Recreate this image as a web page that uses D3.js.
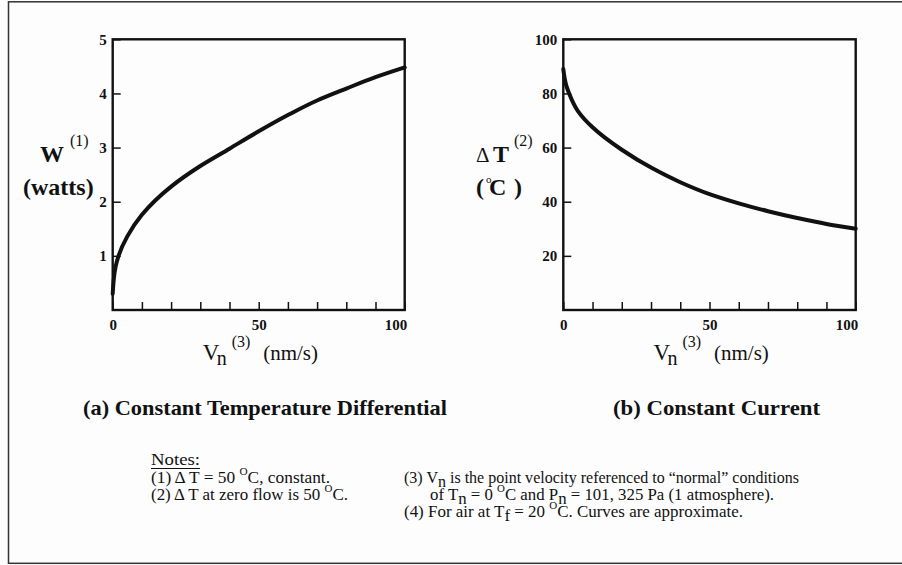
<!DOCTYPE html>
<html>
<head>
<meta charset="utf-8">
<script src="https://cdn.jsdelivr.net/npm/d3@7"></script>
<style>
  body { margin: 0; background: #fdfdfd; }
  svg { display: block; font-family: "Liberation Serif", "Times New Roman", serif; fill: #111; }
  .tick text { font-family: "Liberation Serif", "Times New Roman", serif; font-weight: bold; font-size: 15px; fill: #111; }
  .tick line { stroke: #111; stroke-width: 1.5; }
</style>
</head>
<body>
<svg id="HOTWIRE_CHART" width="902" height="565"></svg>
<script>
// values, V_n in nm/s
var velocity = [0, 1, 2, 5, 10, 20, 30, 40, 50, 60, 70, 80, 90, 100];
var powerWatts = [0.3, 0.8, 1.0, 1.36, 1.76, 2.28, 2.66, 2.98, 3.3, 3.6, 3.87, 4.09, 4.3, 4.48];
var deltaTemp = [89, 83, 80, 73.5, 67.5, 59.2, 52.6, 47.2, 42.8, 39.4, 36.5, 34.0, 31.8, 30];

var xTicks = [0, 10, 20, 30, 40, 50, 60, 70, 80, 90, 100];
var xTickLabels = [0, 50, 100];
var wTicks = [1, 2, 3, 4, 5];
var tTicks = [20, 40, 60, 80, 100];

var panelTitles = ["(a) Constant Temperature Differential", "(b) Constant Current"];

var svg = d3.select("#HOTWIRE_CHART");

// text made of several pieces (sub / superscripts)
function richText(parent, x, y, parts) {
  var t = parent.append("text").attr("x", x).attr("y", y);
  var prev = 0;
  parts.forEach(function (p) {
    var ts = t.append("tspan").text(p.t);
    var s = p.shift || 0;
    if (s !== prev) ts.attr("dy", s - prev);
    prev = s;
    if (p.x != null) ts.attr("x", p.x);
    if (p.size) ts.style("font-size", p.size + "px");
    if (p.bold) ts.style("font-weight", "bold");
  });
  return t;
}

var hotwire = {
  top: 39.3,
  bottom: 310,

  drawPanel: function (opt) {
    var x = d3.scaleLinear().domain([0, 100]).range([opt.left, opt.right]);
    var y = d3.scaleLinear().domain([0, opt.ymax]).range([hotwire.bottom, hotwire.top]);
    var g = svg.append("g");

    var xAxis = d3.axisBottom(x)
      .tickValues(xTicks)
      .tickSizeInner(-8)
      .tickSizeOuter(0)
      .tickPadding(9)
      .tickFormat(function (d) {
        return xTickLabels.indexOf(d) >= 0 ? d : "";
      });
    var xg = g.append("g")
      .attr("transform", "translate(0," + hotwire.bottom + ")")
      .call(xAxis);
    xg.select(".domain").remove();
    xg.selectAll(".tick text").filter(function (d) { return d === 100; })
      .attr("text-anchor", "end").attr("x", 2);

    var yAxis = d3.axisLeft(y)
      .tickValues(opt.ticks)
      .tickFormat(d3.format("d"))
      .tickSizeInner(-8)
      .tickSizeOuter(0)
      .tickPadding(6);
    var yg = g.append("g")
      .attr("transform", "translate(" + opt.left + ",0)")
      .call(yAxis);
    yg.select(".domain").remove();

    // plot frame
    g.append("rect")
      .attr("x", x(0))
      .attr("y", y(opt.ymax))
      .attr("width", x(100) - x(0))
      .attr("height", y(0) - y(opt.ymax))
      .attr("fill", "none")
      .attr("stroke", "#111")
      .attr("stroke-width", 2.4);

    // curves are steep at zero flow, so interpolate along y
    var line = d3.line()
      .x(function (d, i) { return x(velocity[i]); })
      .y(function (d) { return y(d); })
      .curve(d3.curveMonotoneY);

    g.append("path")
      .datum(opt.values)
      .attr("d", line)
      .attr("fill", "none")
      .attr("stroke", "#111")
      .attr("stroke-width", 4)
      .attr("stroke-linecap", "round");

    // x axis title  Vn(3) (nm/s)
    var cx = (opt.left + opt.right) / 2;
    richText(g, cx - 56, 360, [
      { t: "V", size: 23 },
      { t: "n", size: 20, x: cx - 42, shift: 5 },
      { t: "(3)", size: 16, x: cx - 27, shift: -13 },
      { t: "(nm/s)", size: 21, x: cx + 4.5, shift: 0 }
    ]);

    // panel caption
    g.append("text")
      .attr("x", opt.captionX)
      .attr("y", 415)
      .attr("text-anchor", "middle")
      .attr("textLength", opt.captionW)
      .attr("lengthAdjust", "spacingAndGlyphs")
      .style("font-size", "22px")
      .style("font-weight", "bold")
      .text(opt.title);

    return g;
  }
};

// outer frame of the figure
svg.append("rect")
  .attr("x", 0).attr("y", 0).attr("width", 902).attr("height", 565)
  .attr("fill", "#fdfdfd");
svg.append("rect")
  .attr("x", 8.5).attr("y", 1.8).attr("width", 960).attr("height", 561.5)
  .attr("fill", "none").attr("stroke", "#333").attr("stroke-width", 1.5);

var left = hotwire.drawPanel({
  left: 112.7, right: 404.7, ymax: 5, ticks: wTicks,
  values: powerWatts, title: panelTitles[0], captionX: 265, captionW: 364
});
var right = hotwire.drawPanel({
  left: 563.3, right: 855.7, ymax: 100, ticks: tTicks,
  values: deltaTemp, title: panelTitles[1], captionX: 716.5, captionW: 207
});

// y axis titles
richText(left, 40, 162, [
  { t: "W", size: 24, bold: true },
  { t: "(1)", size: 16, x: 70, shift: -16 }
]);
richText(left, 23, 195, [{ t: "(watts)", size: 24, bold: true }]);

richText(right, 476, 162, [
  { t: "Δ", size: 21 },
  { t: "T", size: 24, bold: true, x: 493 },
  { t: "(2)", size: 16, x: 514, shift: -16 }
]);
richText(right, 476, 195, [
  { t: "(", size: 24, bold: true },
  { t: "o", size: 11, x: 486, shift: -12 },
  { t: "C", size: 24, bold: true, x: 489, shift: 0 },
  { t: ")", size: 24, bold: true, x: 514 }
]);

// notes block
var notes = svg.append("g").style("font-size", "17px");
notes.append("text").attr("x", 151).attr("y", 465)
  .attr("textLength", 49).attr("lengthAdjust", "spacingAndGlyphs").text("Notes:");
notes.append("line").attr("x1", 151).attr("x2", 200).attr("y1", 468.5).attr("y2", 468.5)
  .attr("stroke", "#111").attr("stroke-width", 1);

var noteLines = [
  { x: 151, y: 483, w: 179, parts: [
    { t: "(1) Δ T = 50 " }, { t: "O", size: 11, shift: -8 }, { t: "C,  constant.", shift: 0 }] },
  { x: 151, y: 500, w: 197, parts: [
    { t: "(2) Δ T at zero flow is 50 " }, { t: "O", size: 11, shift: -8 }, { t: "C.", shift: 0 }] },
  { x: 404, y: 483, w: 395, parts: [
    { t: "(3) V" }, { t: "n", shift: 4 }, { t: " is the point velocity referenced to \u201cnormal\u201d conditions", shift: 0 }] },
  { x: 430, y: 500, w: 344, parts: [
    { t: "of  T" }, { t: "n", shift: 4 }, { t: " = 0 ", shift: 0 }, { t: "O", size: 11, shift: -8 },
    { t: "C  and P", shift: 0 }, { t: "n", shift: 4 }, { t: " = 101, 325 Pa (1 atmosphere).", shift: 0 }] },
  { x: 404, y: 517, w: 339, parts: [
    { t: "(4) For air at T" }, { t: "f", shift: 4 }, { t: " =  20 ", shift: 0 }, { t: "O", size: 11, shift: -8 },
    { t: "C.  Curves are approximate.", shift: 0 }] }
];
noteLines.forEach(function (n) {
  richText(notes, n.x, n.y, n.parts)
    .attr("textLength", n.w)
    .attr("lengthAdjust", "spacingAndGlyphs");
});
</script>
</body>
</html>
